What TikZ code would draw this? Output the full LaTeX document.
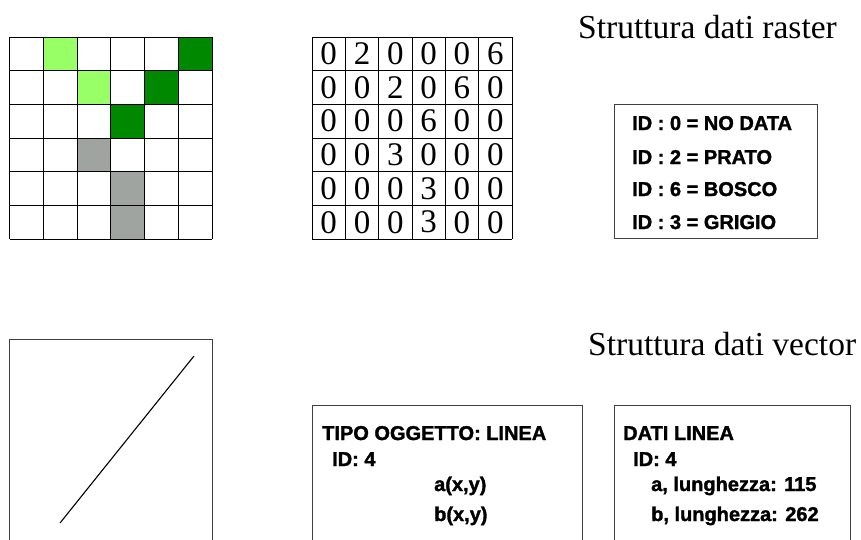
\documentclass[tikz,border=0pt]{standalone}
\usepackage{fontspec}
\setmainfont{Liberation Serif}
\newfontfamily\arialb[FakeBold=1.6]{Liberation Sans Bold}
\definecolor{prato}{RGB}{153,255,102}
\definecolor{bosco}{RGB}{0,136,0}
\definecolor{grigio}{RGB}{160,164,160}
\definecolor{bordo}{RGB}{64,64,64}

\begin{document}
\begin{tikzpicture}[x=1pt,y=-1pt,
  cell/.style={draw=black,line width=0.9pt},
  digit/.style={inner sep=0pt,font=\fontsize{33}{33}\selectfont},
  lbl/.style={anchor=base west,inner sep=0pt,font=\arialb\fontsize{20}{24}\selectfont},
  titolo/.style={anchor=base west,inner sep=0pt,font=\fontsize{33.5}{36}\selectfont},
  panel/.style={draw=bordo,line width=0.9pt}]
\useasboundingbox (0,0) rectangle (861,539);
\clip (0,0) rectangle (861,539);

% ---- raster: coloured cells ----
\def\gx{9.5}\def\gy{37}\def\cw{33.75}\def\ch{33.67}
\foreach \c/\r/\col in {1/0/prato,5/0/bosco,2/1/prato,4/1/bosco,3/2/bosco,2/3/grigio,3/4/grigio,3/5/grigio}
  \fill[\col] ({\gx+\c*\cw},{\gy+\r*\ch}) rectangle ++(\cw,\ch);
\foreach \i in {0,...,6} {
  \draw[cell] ({\gx+\i*\cw},\gy) -- ++(0,{6*\ch});
  \draw[cell] (\gx,{\gy+\i*\ch}) -- ++({6*\cw},0);
}

% ---- raster: matrix of IDs ----
\def\mx{312}\def\my{37}\def\mw{33.33}\def\mh{33.67}
\foreach \i in {0,...,6} {
  \draw[cell] ({\mx+\i*\mw},\my) -- ++(0,{6*\mh});
  \draw[cell] (\mx,{\my+\i*\mh}) -- ++({6*\mw},0);
}
\foreach \row [count=\r from 0] in {{0,2,0,0,0,6},{0,0,2,0,6,0},{0,0,0,6,0,0},{0,0,3,0,0,0},{0,0,0,3,0,0},{0,0,0,3,0,0}} {
  \foreach \v [count=\c from 0] in \row {
    \node[digit] (d-\r-\c) at ({\mx+(\c+0.5)*\mw},{\my+(\r+0.5)*\mh}) {\v};
  }
}

% ---- raster: title and legend ----
\node[titolo] (traster) at (578,38) {Struttura dati raster};
\draw[panel] (614,104) rectangle (817,238);
\node[lbl] (l0) at (632,130) {ID : 0 = NO DATA};
\node[lbl] (l2) at (632,164) {ID : 2 = PRATO};
\node[lbl] (l6) at (632,196) {ID : 6 = BOSCO};
\node[lbl] (l3) at (632,229) {ID : 3 = GRIGIO};

% ---- vector: title, drawing and records ----
\node[titolo] (tvector) at (588,355) {Struttura dati vector};
\draw[panel] (9.5,339) rectangle (212,560);
\coordinate (pa) at (60,523);
\coordinate (pb) at (194,356);
\draw[line width=1.1pt] (pa) -- (pb);

\draw[panel] (312,405) rectangle (582,560);
\node[lbl] (tipo) at (322,440) {TIPO OGGETTO: LINEA};
\node[lbl] (tid) at (332,466) {ID: 4};
\node[lbl] (ta) at (434,491) {a(x,y)};
\node[lbl] (tb) at (434,521) {b(x,y)};

\draw[panel] (614,405) rectangle (850,560);
\node[lbl] (dati) at (623,440) {DATI LINEA};
\node[lbl] (did) at (633,466) {ID: 4};
\node[lbl] (da) at (651,491) {a, lunghezza: 115};
\node[lbl] (db) at (651,521) {b, lunghezza: 262};
\end{tikzpicture}
\end{document}
